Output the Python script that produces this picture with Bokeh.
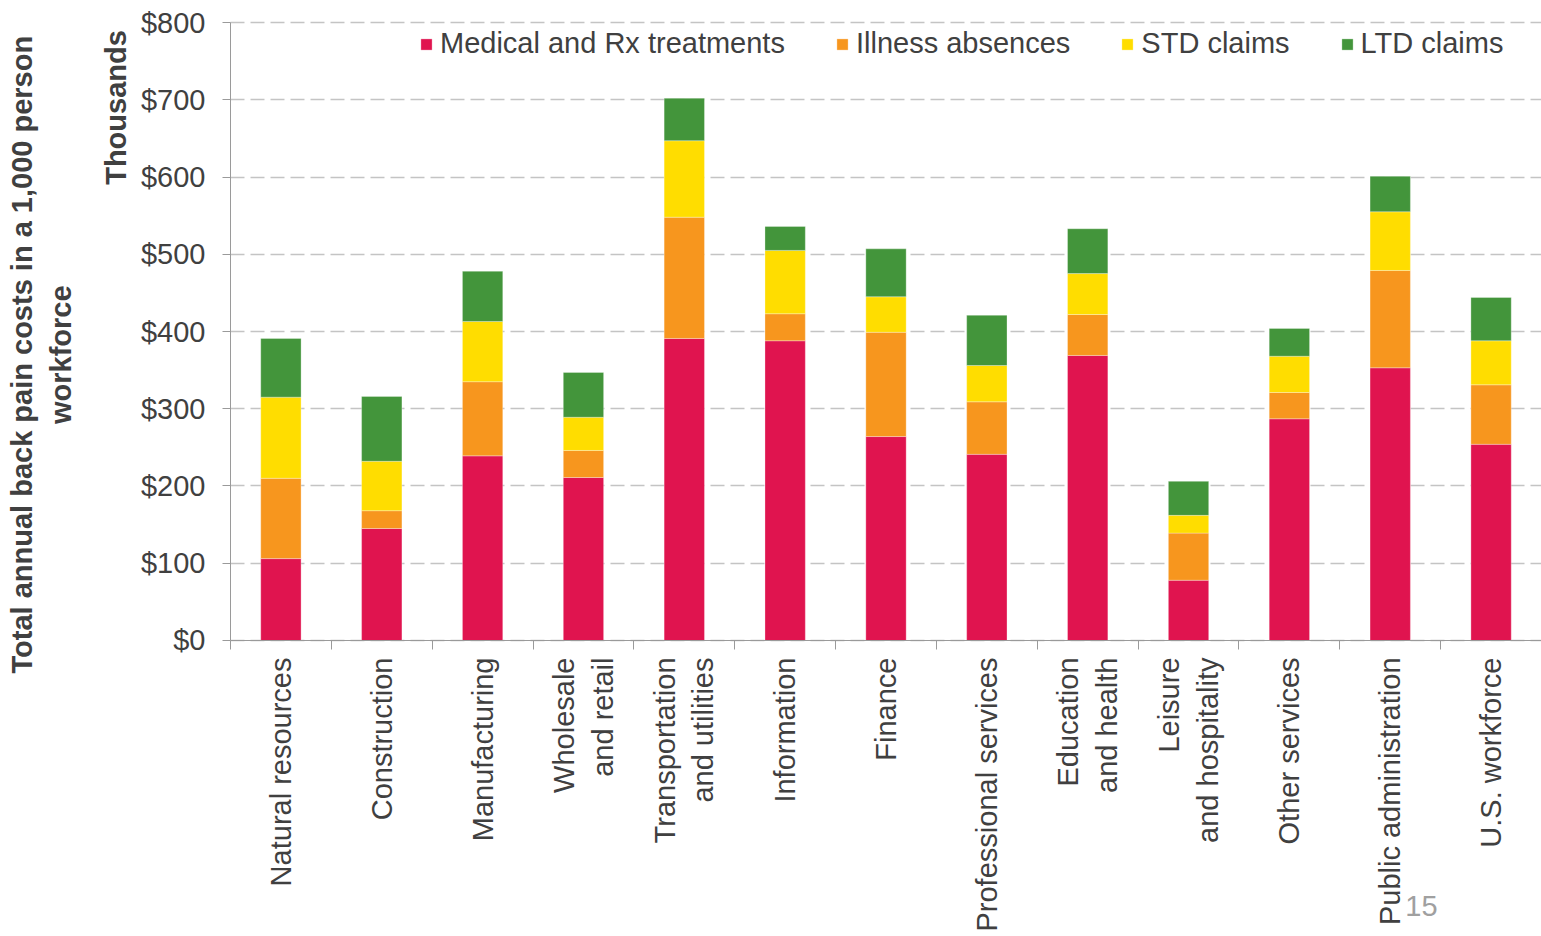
import math
import numpy as np
from bokeh.plotting import figure
from bokeh.models import (Range1d, LinearAxis, FixedTicker, Legend, LegendItem, Label, Grid,
                          ColumnDataSource)
from bokeh.embed import file_html
from bokeh.resources import INLINE

categories = ["Natural resources", "Construction", "Manufacturing", "Wholesale\nand retail",
              "Transportation\nand utilities", "Information", "Finance", "Professional services",
              "Education\nand health", "Leisure\nand hospitality", "Other services",
              "Public administration", "U.S. workforce"]
medical = [106, 145, 239, 211, 391, 388, 264, 241, 369, 78, 287, 353, 254]
illness = [104, 23, 96, 35, 157, 35, 135, 68, 53, 61, 34, 126, 77]
std_claims = [105, 64, 78, 43, 99, 82, 46, 47, 53, 23, 47, 76, 57]
ltd_claims = [76, 84, 65, 58, 55, 31, 62, 65, 58, 44, 36, 46, 56]

series_keys = ["medical", "illness", "std", "ltd"]
series_names = ["Medical and Rx treatments", "Illness absences", "STD claims", "LTD claims"]
colors = ["#E0144F", "#F7961E", "#FFDD00", "#43953B"]

y_ticks = [0, 100, 200, 300, 400, 500, 600, 700, 800]
y_tick_labels = ["$0", "$100", "$200", "$300", "$400", "$500", "$600", "$700", "$800"]
y_unit_title = "Thousands"
y_title = "Total annual back pain costs in a 1,000 person\nworkforce"
page_number = "15"

FONT = "Liberation Sans"
FS = "29px"
TXT = "#404040"
AX = "#9a9a9a"

n = len(categories)
xpos = np.arange(n) + 0.5          # category centres
seps = list(range(n + 1))          # category boundaries

source = ColumnDataSource(dict(x=xpos, medical=medical, illness=illness,
                               std=std_claims, ltd=ltd_claims))

# The frame covers the whole canvas; axes sit on the zero lines so that every
# text (axis titles, category labels, page number) is laid out inside it.
p = figure(x_range=Range1d(-2.2806, n), y_range=Range1d(-381.9, 828.5),
           frame_width=1541, frame_height=935, output_backend="svg", toolbar_location=None,
           x_axis_location=None, y_axis_location=None,
           min_border_left=0, min_border_top=0, min_border_right=0, min_border_bottom=0)
p.outline_line_color = None
p.center = [r for r in p.center if not isinstance(r, Grid)]

renderers = p.vbar_stack(series_keys, x="x", width=0.4, color=colors, source=source,
                         line_color="white", line_width=0.5, line_alpha=0.6)

# y axis on x = 0
yticker = FixedTicker(ticks=y_ticks)
p.add_layout(Grid(dimension=1, ticker=yticker, grid_line_color="#c4c4c4",
                  grid_line_dash="14 6", grid_line_width=1.5, cross_bounds=(0, n)),
             "center")

yaxis = LinearAxis(ticker=yticker, bounds=(0, 800), fixed_location=0,
                   major_label_overrides={t: l for t, l in zip(y_ticks, y_tick_labels)})
yaxis.axis_line_color = AX
yaxis.major_tick_line_color = AX
yaxis.major_tick_out = 8
yaxis.major_tick_in = 0
yaxis.minor_tick_line_color = None
yaxis.major_label_standoff = 17
yaxis.major_label_text_font = FONT
yaxis.major_label_text_font_size = FS
yaxis.major_label_text_color = TXT
p.add_layout(yaxis, "left")

# x axis on y = 0: labels at centres, separator ticks (minor) at boundaries
xaxis = LinearAxis(ticker=FixedTicker(ticks=list(xpos), minor_ticks=seps), fixed_location=0,
                   bounds=(0, n),
                   major_label_overrides={float(x): c for x, c in zip(xpos, categories)})
xaxis.axis_line_color = AX
xaxis.major_tick_line_color = None
xaxis.minor_tick_line_color = AX
xaxis.minor_tick_out = 9
xaxis.minor_tick_in = 0
xaxis.major_label_orientation = math.pi / 2
xaxis.major_label_standoff = 8
xaxis.major_label_text_font = FONT
xaxis.major_label_text_font_size = FS
xaxis.major_label_text_color = TXT
p.add_layout(xaxis, "below")

# axis titles
p.add_layout(Label(x=-1.14, y=690, text=y_unit_title, angle=math.pi / 2, text_font=FONT,
                   text_font_size=FS, text_font_style="bold", text_color=TXT,
                   text_align="center", text_baseline="middle"))
p.add_layout(Label(x=-1.874, y=370, text=y_title, angle=math.pi / 2, text_font=FONT,
                   text_font_size=FS, text_font_style="bold", text_color=TXT,
                   text_align="center", text_baseline="middle"))

legend = Legend(items=[LegendItem(label=nm, renderers=[r]) for nm, r in zip(series_names, renderers)],
                orientation="horizontal", location=(419, 875))
legend.label_text_font = FONT
legend.label_text_font_size = FS
legend.label_text_color = TXT
legend.glyph_width = 14
legend.glyph_height = 14
legend.label_standoff = 7
legend.spacing = 50
legend.background_fill_alpha = 0
legend.border_line_color = None
legend.margin = 0
legend.padding = 0
p.add_layout(legend)

p.add_layout(Label(x=11.65, y=-344, text=page_number, text_color="#a0a0a0",
                   text_font=FONT, text_font_size=FS, text_baseline="middle"))

open("out.html", "w").write(file_html(p, INLINE))
